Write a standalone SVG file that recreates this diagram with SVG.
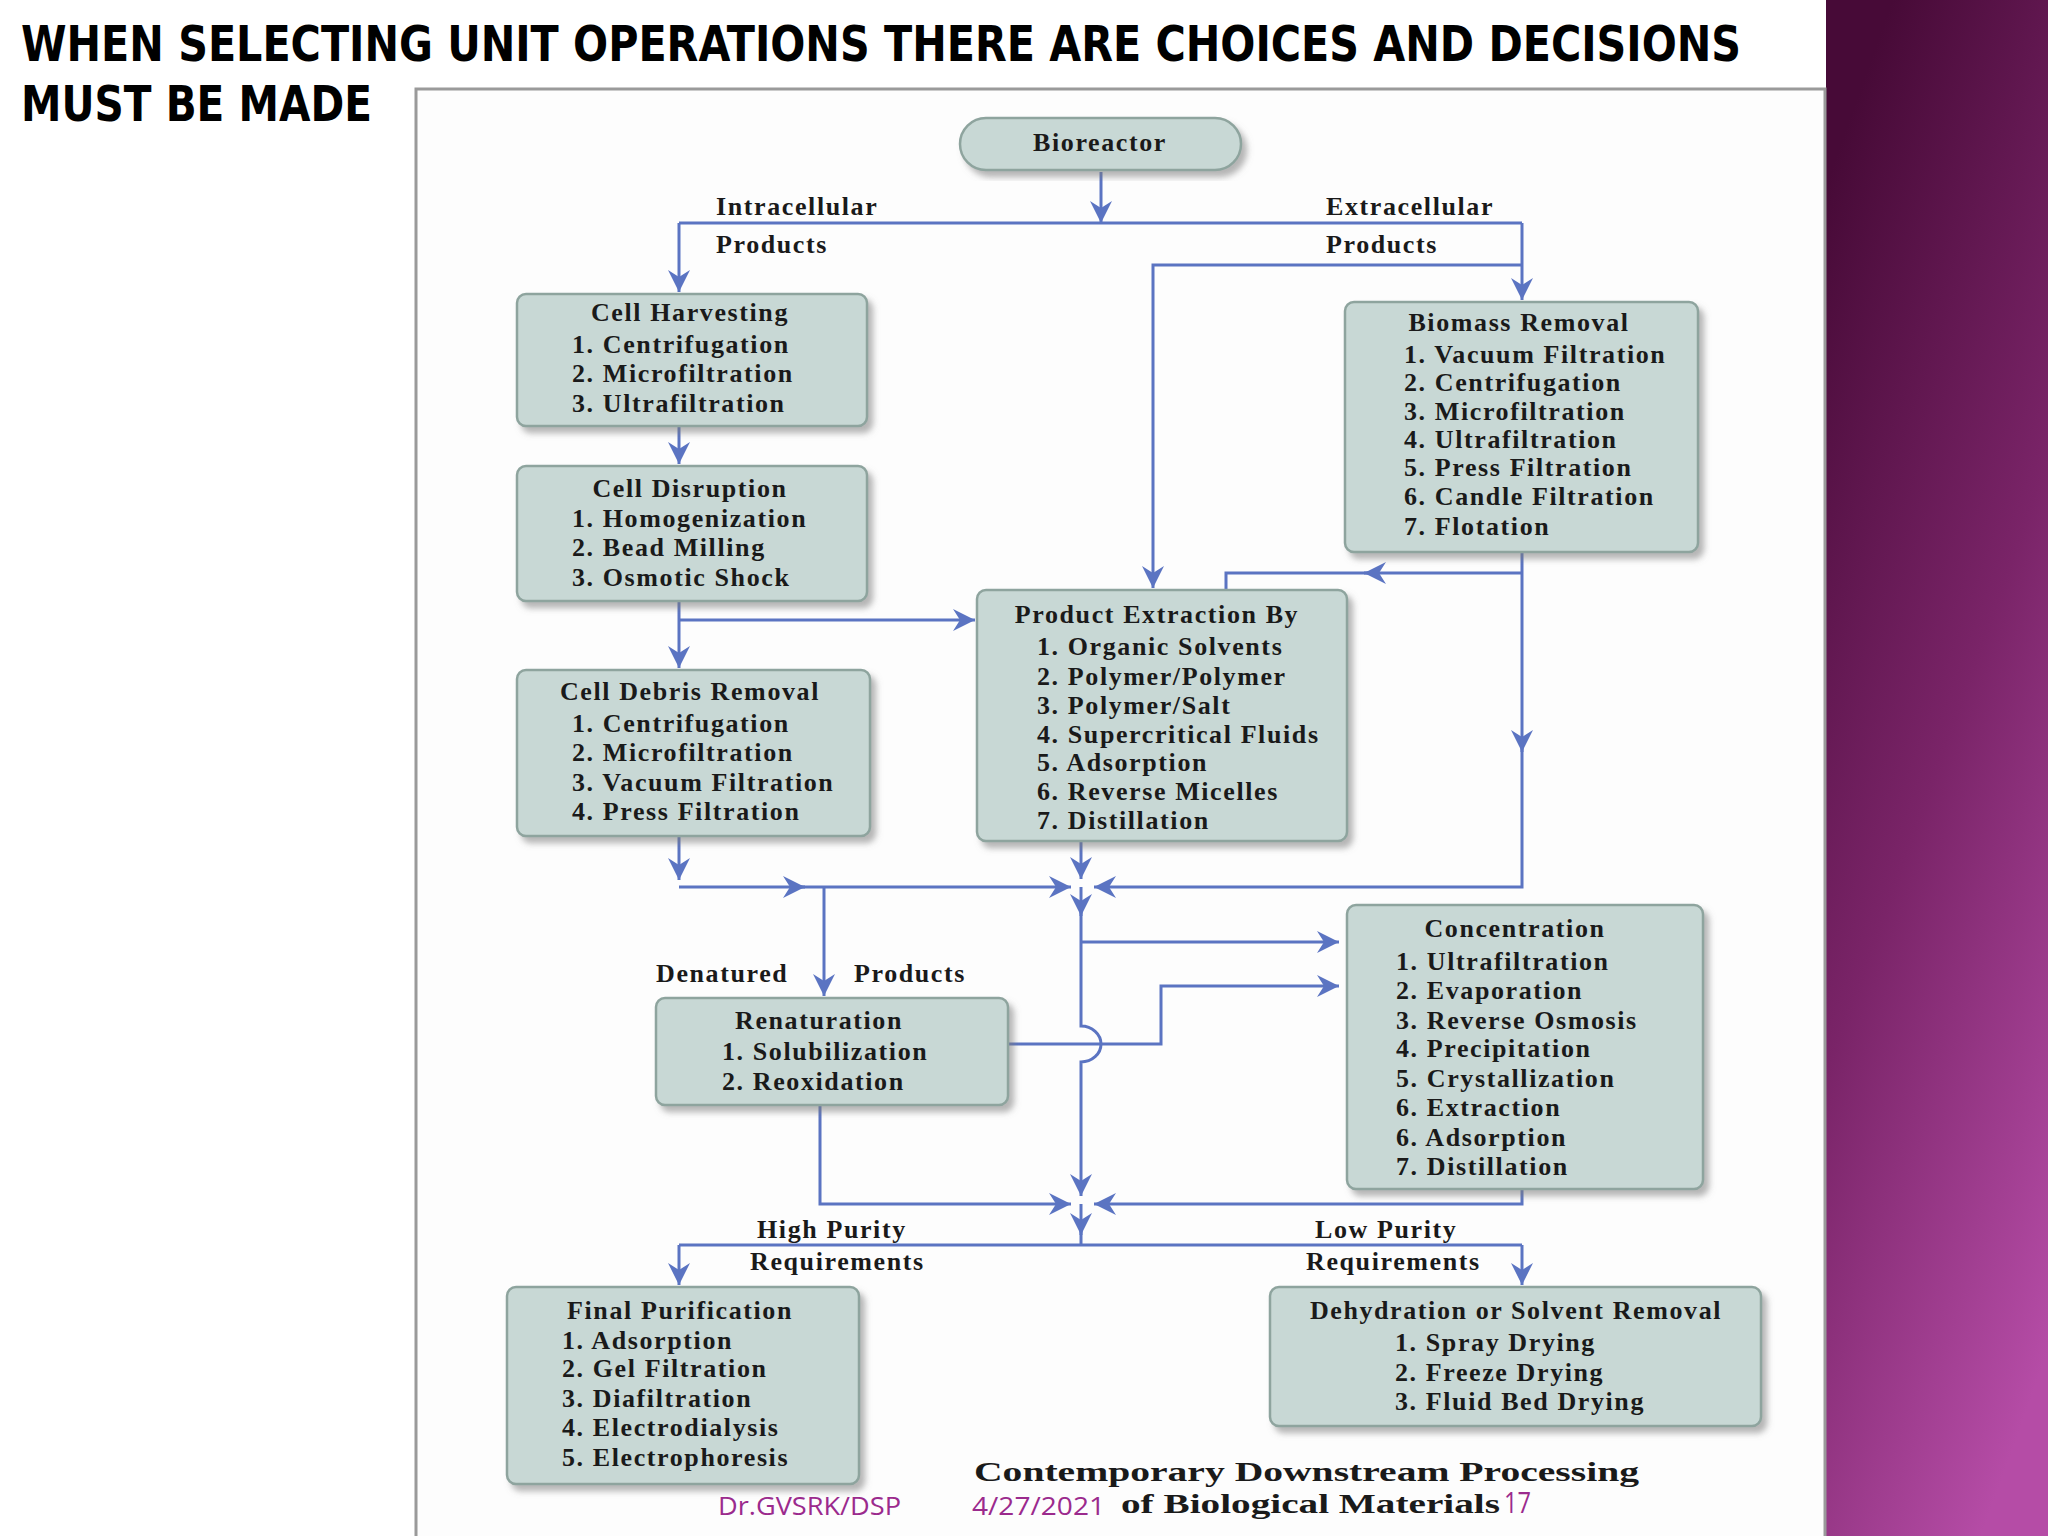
<svg xmlns="http://www.w3.org/2000/svg" width="2048" height="1536" viewBox="0 0 2048 1536">
<defs>
<linearGradient id="side" x1="0.3" y1="0" x2="0.7" y2="1">
<stop offset="0" stop-color="#470a37"/>
<stop offset="0.5" stop-color="#7a2468"/>
<stop offset="1" stop-color="#b54ca6"/>
</linearGradient>
<filter id="sh" x="-10%" y="-10%" width="125%" height="130%">
<feDropShadow dx="5" dy="6" stdDeviation="3" flood-color="#7a7a7a" flood-opacity="0.55"/>
</filter>
<marker id="ah" markerUnits="userSpaceOnUse" markerWidth="26" markerHeight="24" refX="22" refY="11" orient="auto" viewBox="0 0 26 24">
<path d="M0,0 L22,11 L0,22 L7,11 Z" fill="#5b74c2"/>
</marker>
</defs>
<style>
.box{fill:#c8d8d5;stroke:#8ea49e;stroke-width:2.5;filter:url(#sh)}
.t{font-family:"Liberation Serif","Times New Roman",serif;font-weight:bold;font-size:26px;letter-spacing:1.6px;fill:#1a1a1a}
.c{text-anchor:middle}
.ln{fill:none;stroke:#5b74c2;stroke-width:3}
.ar{fill:none;stroke:#5b74c2;stroke-width:3;marker-end:url(#ah)}
.hd{font-family:"DejaVu Sans Condensed","DejaVu Sans","Open Sans",sans-serif;font-weight:bold;font-size:50px;fill:#000}
.ft{font-family:"Open Sans","Liberation Sans",sans-serif;font-size:26px;fill:#9b2a8d}
.cap{font-family:"Liberation Serif","Times New Roman",serif;font-weight:bold;font-size:28px;fill:#1a1a1a}
</style>
<rect x="0" y="0" width="2048" height="1536" fill="#ffffff"/>
<rect x="1826" y="0" width="222" height="1536" fill="url(#side)"/>
<text class="hd" x="21" y="61" textLength="1720" lengthAdjust="spacingAndGlyphs">WHEN SELECTING UNIT OPERATIONS THERE ARE CHOICES AND DECISIONS</text>
<text class="hd" x="21" y="121" textLength="351" lengthAdjust="spacingAndGlyphs">MUST BE MADE</text>
<rect x="416" y="89" width="1409" height="1460" fill="#fdfdfd" stroke="#9a9a9a" stroke-width="3"/>

<g id="connectors">
<path class="ar" d="M1101,172 V223"/>
<path class="ln" d="M679,223 H1522"/>
<path class="ar" d="M679,223 V292"/>
<path class="ar" d="M1522,223 V300"/>
<path class="ar" d="M1522,265 H1153 V588"/>
<path class="ar" d="M679,426 V464"/>
<path class="ar" d="M679,601 V668"/>
<path class="ar" d="M679,620 H975"/>
<path class="ar" d="M1522,552 V752"/>
<path class="ar" d="M1522,740 V887 H1094"/>
<path class="ar" d="M1522,573 H1364"/>
<path class="ln" d="M1370,573 H1226 V590"/>
<path class="ar" d="M679,836 V880"/>
<path class="ar" d="M679,887 H805"/>
<path class="ar" d="M800,887 H1071"/>
<path class="ar" d="M824,887 V996"/>
<path class="ar" d="M1081,841 V879"/>
<path class="ar" d="M1081,887 V916"/>
<path class="ar" d="M1081,910 V1026 A20,18 0 0 1 1081,1062 V1196"/>
<path class="ar" d="M1081,942 H1339"/>
<path class="ar" d="M1008,1044 H1161 V986 H1339"/>
<path class="ar" d="M820,1105 V1204 H1071"/>
<path class="ar" d="M1522,1189 V1204 H1094"/>
<path class="ar" d="M1081,1204 V1235"/>
<path class="ln" d="M1081,1228 V1245"/>
<path class="ln" d="M679,1245 H1522"/>
<path class="ar" d="M679,1245 V1285"/>
<path class="ar" d="M1522,1245 V1285"/>
</g>

<g id="labels">
<text class="t" x="716" y="215">Intracellular</text>
<text class="t" x="716" y="253">Products</text>
<text class="t" x="1326" y="215">Extracellular</text>
<text class="t" x="1326" y="253">Products</text>
<text class="t" x="656" y="982">Denatured</text>
<text class="t" x="854" y="982">Products</text>
<text class="t" x="757" y="1238">High Purity</text>
<text class="t" x="750" y="1270">Requirements</text>
<text class="t" x="1315" y="1238">Low Purity</text>
<text class="t" x="1306" y="1270">Requirements</text>
</g>

<g id="bioreactor">
<rect class="box" x="960" y="118" width="281" height="52" rx="26"/>
<text class="t c" x="1100" y="151">Bioreactor</text>
</g>

<g id="cell-harvesting">
<rect class="box" x="517" y="294" width="350" height="132" rx="9"/>
<text class="t c" x="690" y="321">Cell Harvesting</text>
<text class="t" x="572" y="353">1. Centrifugation</text>
<text class="t" x="572" y="382">2. Microfiltration</text>
<text class="t" x="572" y="412">3. Ultrafiltration</text>
</g>

<g id="cell-disruption">
<rect class="box" x="517" y="466" width="350" height="135" rx="9"/>
<text class="t c" x="690" y="497">Cell Disruption</text>
<text class="t" x="572" y="527">1. Homogenization</text>
<text class="t" x="572" y="556">2. Bead Milling</text>
<text class="t" x="572" y="586">3. Osmotic Shock</text>
</g>

<g id="cell-debris-removal">
<rect class="box" x="517" y="670" width="353" height="166" rx="9"/>
<text class="t c" x="690" y="700">Cell Debris Removal</text>
<text class="t" x="572" y="732">1. Centrifugation</text>
<text class="t" x="572" y="761">2. Microfiltration</text>
<text class="t" x="572" y="791">3. Vacuum Filtration</text>
<text class="t" x="572" y="820">4. Press Filtration</text>
</g>

<g id="product-extraction">
<rect class="box" x="977" y="590" width="370" height="251" rx="9"/>
<text class="t c" x="1157" y="623">Product Extraction By</text>
<text class="t" x="1037" y="655">1. Organic Solvents</text>
<text class="t" x="1037" y="685">2. Polymer/Polymer</text>
<text class="t" x="1037" y="714">3. Polymer/Salt</text>
<text class="t" x="1037" y="743">4. Supercritical Fluids</text>
<text class="t" x="1037" y="771">5. Adsorption</text>
<text class="t" x="1037" y="800">6. Reverse Micelles</text>
<text class="t" x="1037" y="829">7. Distillation</text>
</g>

<g id="biomass-removal">
<rect class="box" x="1345" y="302" width="353" height="250" rx="9"/>
<text class="t c" x="1519" y="331">Biomass Removal</text>
<text class="t" x="1404" y="363">1. Vacuum Filtration</text>
<text class="t" x="1404" y="391">2. Centrifugation</text>
<text class="t" x="1404" y="420">3. Microfiltration</text>
<text class="t" x="1404" y="448">4. Ultrafiltration</text>
<text class="t" x="1404" y="476">5. Press Filtration</text>
<text class="t" x="1404" y="505">6. Candle Filtration</text>
<text class="t" x="1404" y="535">7. Flotation</text>
</g>

<g id="renaturation">
<rect class="box" x="656" y="998" width="352" height="107" rx="9"/>
<text class="t c" x="819" y="1029">Renaturation</text>
<text class="t" x="722" y="1060">1. Solubilization</text>
<text class="t" x="722" y="1090">2. Reoxidation</text>
</g>

<g id="concentration">
<rect class="box" x="1347" y="905" width="356" height="284" rx="9"/>
<text class="t c" x="1515" y="937">Concentration</text>
<text class="t" x="1396" y="970">1. Ultrafiltration</text>
<text class="t" x="1396" y="999">2. Evaporation</text>
<text class="t" x="1396" y="1029">3. Reverse Osmosis</text>
<text class="t" x="1396" y="1057">4. Precipitation</text>
<text class="t" x="1396" y="1087">5. Crystallization</text>
<text class="t" x="1396" y="1116">6. Extraction</text>
<text class="t" x="1396" y="1146">6. Adsorption</text>
<text class="t" x="1396" y="1175">7. Distillation</text>
</g>

<g id="final-purification">
<rect class="box" x="507" y="1287" width="352" height="197" rx="9"/>
<text class="t c" x="680" y="1319">Final Purification</text>
<text class="t" x="562" y="1349">1. Adsorption</text>
<text class="t" x="562" y="1377">2. Gel Filtration</text>
<text class="t" x="562" y="1407">3. Diafiltration</text>
<text class="t" x="562" y="1436">4. Electrodialysis</text>
<text class="t" x="562" y="1466">5. Electrophoresis</text>
</g>

<g id="dehydration">
<rect class="box" x="1270" y="1287" width="491" height="139" rx="9"/>
<text class="t c" x="1516" y="1319">Dehydration or Solvent Removal</text>
<text class="t" x="1395" y="1351">1. Spray Drying</text>
<text class="t" x="1395" y="1381">2. Freeze Drying</text>
<text class="t" x="1395" y="1410">3. Fluid Bed Drying</text>
</g>

<g id="caption">
<text class="cap" x="974" y="1481" textLength="665" lengthAdjust="spacingAndGlyphs">Contemporary Downstream Processing</text>
<text class="cap" x="1121" y="1513" textLength="379" lengthAdjust="spacingAndGlyphs">of Biological Materials</text>
</g>
<g id="footer">
<text class="ft" x="718" y="1515" textLength="183" lengthAdjust="spacingAndGlyphs">Dr.GVSRK/DSP</text>
<text class="ft" x="972" y="1515" textLength="133" lengthAdjust="spacingAndGlyphs">4/27/2021</text>
<text class="ft" x="1504" y="1513" style="font-size:30px" textLength="27" lengthAdjust="spacingAndGlyphs">17</text>
</g>
</svg>
